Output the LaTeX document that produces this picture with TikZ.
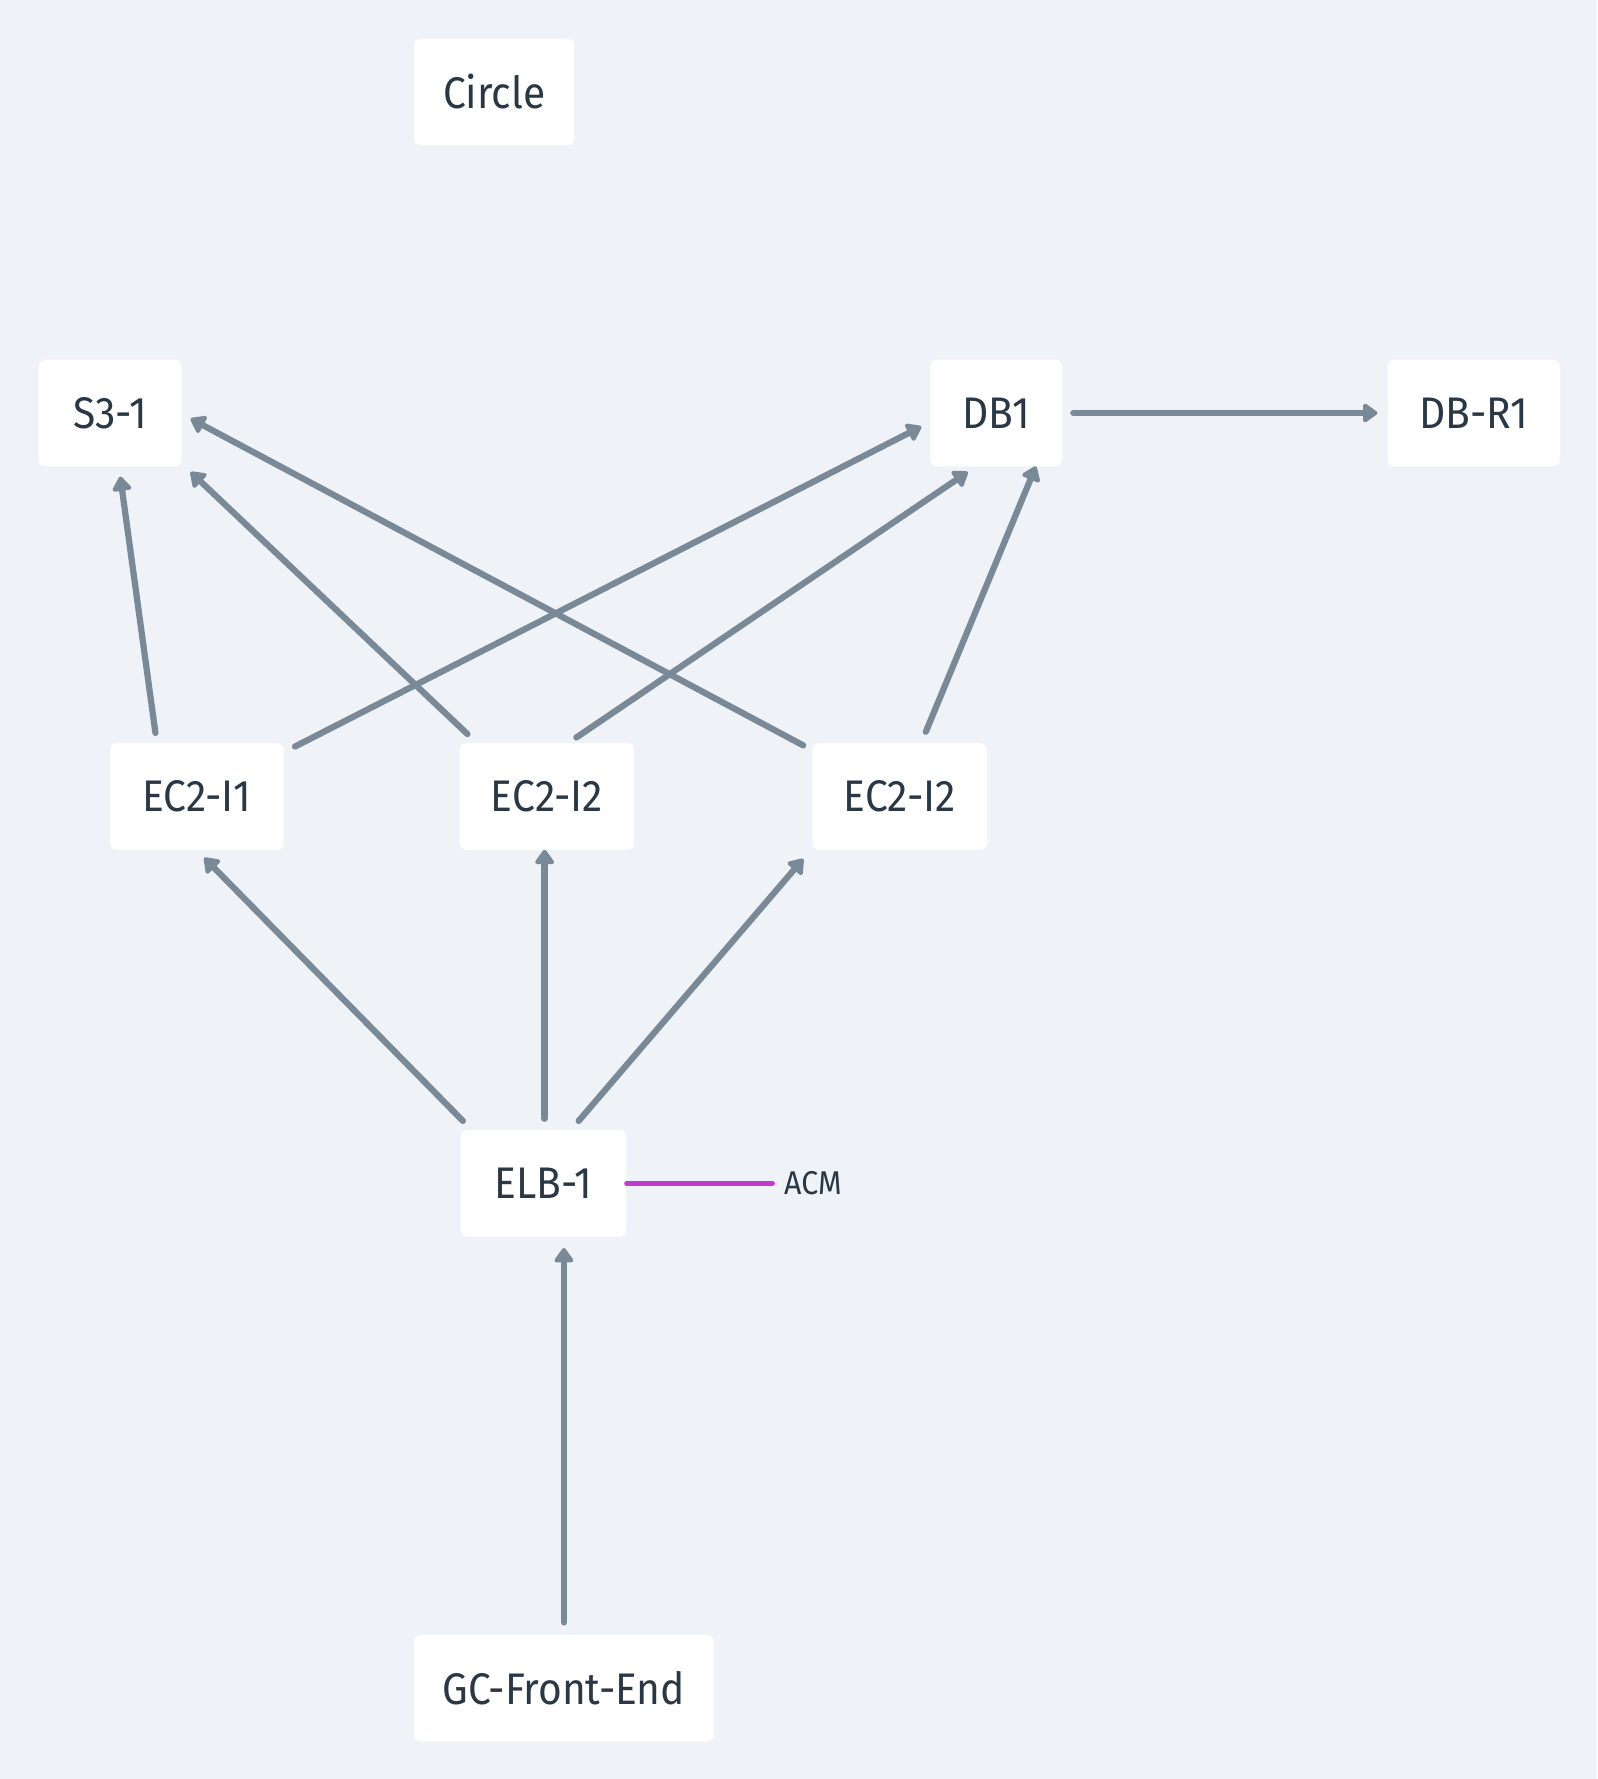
\documentclass[tikz,border=0pt]{standalone}
\usepackage{fontspec}
\setmainfont{Fira Sans}[FakeStretch=0.92]
\usetikzlibrary{arrows.meta,calc}
\definecolor{bgc}{HTML}{EFF3F7}
\definecolor{txtc}{HTML}{2A3744}
\definecolor{linec}{HTML}{7A8997}
\definecolor{acmc}{HTML}{C03CD0}
\tikzset{
  box/.style={fill=white, rounded corners=6pt, minimum height=94pt, inner sep=0pt,
    text=txtc, font=\fontsize{39}{46}\selectfont},
  arr/.style={draw=linec, line width=5.5pt, line cap=round,
    -{Triangle[length=14pt,width=19pt,round]}},
}
\begin{document}
\begin{tikzpicture}[x=1pt,y=-1pt]
\fill[bgc] (0,0) rectangle (1408,1568);
\useasboundingbox (0,0) rectangle (1408,1568);

\node[box, minimum width=141pt] (circle) at (435.5,81) {Circle};
\node[box, minimum width=126pt] (s3) at (97,364) {S3-1};
\node[box, minimum width=116pt] (db1) at (878,364) {DB1};
\node[box, minimum width=152pt] (dbr) at (1299,364) {DB-R1};
\node[box, minimum width=153pt] (ec1) at (173.5,702) {EC2-I1};
\node[box, minimum width=154pt] (ec2) at (482,702) {EC2-I2};
\node[box, minimum width=154pt] (ec3) at (793,702) {EC2-I2};
\node[box, minimum width=146pt] (elb) at (479,1043) {ELB-1};
\node[box, minimum width=264pt] (gc) at (497,1488) {GC-Front-End};
\node[anchor=west, inner sep=0pt, text=txtc, font=\fontsize{29}{34}\selectfont] (acm) at (691,1043) {ACM};

\draw[arr] ($(ec1)+(-36.5,-56)$) -- ($(s3)+(9,56)$);
\draw[arr] ($(ec2)+(-70,-55)$) -- ($(s3)+(71,52)$);
\draw[arr] ($(ec3)+(-85,-45)$) -- ($(s3)+(71,5)$);
\draw[arr] ($(ec1)+(86.5,-44)$) -- ($(db1)+(-66,12)$);
\draw[arr] ($(ec2)+(26,-52)$) -- ($(db1)+(-25,52)$);
\draw[arr] ($(ec3)+(23,-57)$) -- ($(db1)+(35,47)$);
\draw[arr] ($(db1)+(68,0)$) -- ($(dbr)+(-85,0)$);
\draw[arr] ($(elb)+(-71,-55)$) -- ($(ec1)+(6.5,54)$);
\draw[arr] ($(elb)+(1,-57)$) -- ($(ec2)+(-2,47)$);
\draw[arr] ($(elb)+(31,-55)$) -- ($(ec3)+(-85,55)$);
\draw[arr] ($(gc)+(0,-58)$) -- ($(elb)+(18,57)$);
\draw[draw=acmc, line width=4pt, line cap=round, shorten >=10pt] (elb.east) -- (acm.west);
\end{tikzpicture}
\end{document}
